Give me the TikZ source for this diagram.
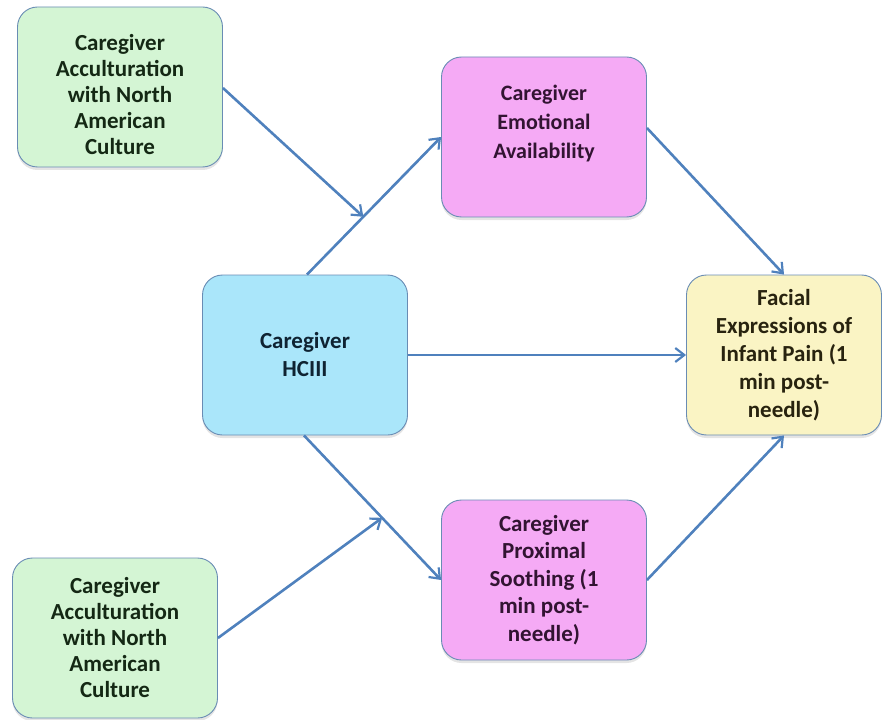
\documentclass[tikz,border=0pt]{standalone}
\usepackage{fontspec}
\setmainfont{Carlito}
\usetikzlibrary{arrows.meta,shadows}
\definecolor{gfill}{RGB}{212,245,212}
\definecolor{pfill}{RGB}{245,170,245}
\definecolor{bfill}{RGB}{170,230,250}
\definecolor{yfill}{RGB}{250,244,196}
\definecolor{bord}{RGB}{105,140,180}
\definecolor{arr}{RGB}{79,129,189}
\definecolor{gtext}{RGB}{20,40,20}
\definecolor{ptext}{RGB}{50,20,50}
\definecolor{btext}{RGB}{15,35,50}
\definecolor{ytext}{RGB}{40,35,15}
\tikzset{
  box/.style={draw=bord, line width=0.9pt, rounded corners=20pt, minimum width=205pt, minimum height=160pt,
    align=center,
    drop shadow={shadow xshift=0pt, shadow yshift=-3pt, fill=black!30, opacity=0.35}},
  gfont/.style={font=\fontsize{23}{26}\selectfont\bfseries, text=gtext, align=center},
  gbox/.style={box, fill=gfill, gfont},
  pbox/.style={box, fill=pfill, text=ptext},
  bbox/.style={box, fill=bfill, text=btext, font=\fontsize{23}{28}\selectfont\bfseries},
  ybox/.style={box, fill=yfill, text=ytext, font=\fontsize{23}{28}\selectfont\bfseries},
  conn/.style={draw=arr, line width=2.6pt, -{Straight Barb[length=9pt,width=14pt,line width=2.2pt]}}
}
\begin{document}
\begin{tikzpicture}[x=1pt,y=-1pt]
\useasboundingbox (0,0) rectangle (882,719);
\node[gbox] (g1) at (120,87) {};
\node[gfont] (g1t) at ([yshift=-8pt]g1.center) {Caregiver\\Acculturation\\with North\\American\\Culture};
\node[pbox, font=\fontsize{22}{29}\selectfont\bfseries] (emo) at (544,137) {Caregiver\\Emotional\\Availability\\[1pt]};
\node[bbox] (hc) at (305,355) {Caregiver\\HCIII};
\node[ybox, minimum width=195pt] (fac) at (784,355) {Facial\\Expressions of\\Infant Pain (1\\min post-\\needle)};
\node[pbox, font=\fontsize{23}{27.5}\selectfont\bfseries] (prox) at (544,580) {Caregiver\\Proximal\\Soothing (1\\min post-\\needle)};
\node[gbox] (g2) at (115,638) {Caregiver\\Acculturation\\with North\\American\\Culture};
\draw[conn] (hc.north) ++(2,0) coordinate (hcn) -- (emo.west);
\path (hcn) -- (emo.west) coordinate[pos=0.42] (m1);
\draw[conn] (g1.east) ++(0,1) coordinate (g1e) -- (m1);
\draw[conn] (emo.east) ++(0,-9) coordinate (emoe) -- (fac.north);
\draw[conn] (hc.east) -- (fac.west);
\draw[conn] (hc.south) ++(-1,0) coordinate (hcs) -- (prox.west);
\path (hcs) -- (prox.west) coordinate[pos=0.57] (m2);
\draw[conn] (g2.east) -- (m2);
\draw[conn] (prox.east) -- (fac.south);
\end{tikzpicture}
\end{document}
